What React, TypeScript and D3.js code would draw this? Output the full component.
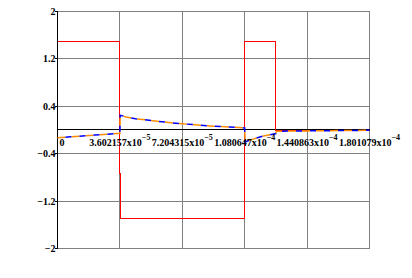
import React from "react";
import * as d3 from "d3";

const xTicks = [0, 3.602157e-5, 7.204315e-5, 1.080647e-4, 1.440863e-4, 1.801079e-4];
const xTickMantissa = ["0", "3.602157", "7.204315", "1.080647", "1.440863", "1.801079"];
const xTickExponent = ["", "−5", "−5", "−4", "−4", "−4"];
const yTicks = [-2, -1.2, -0.4, 0.4, 1.2, 2];
const yTickLabels = ["−2", "−1.2", "−0.4", "0.4", "1.2", "2"];

const redT = [0, 3.602157e-5, 3.602157e-5, 3.66e-5, 3.66e-5, 1.080647e-4, 1.080647e-4, 1.2608e-4, 1.2608e-4, 1.801079e-4];
const redV = [1.5, 1.5, -0.73, -0.73, -1.5, -1.5, 1.5, 1.5, 0, 0];

const respT = [0, 7.2e-6, 1.441e-5, 2.161e-5, 2.882e-5, 3.602e-5, 3.62e-5, 3.962e-5, 4.503e-5, 5.403e-5, 6.304e-5, 7.204e-5, 8.105e-5, 9.005e-5, 9.906e-5, 1.0806e-4, 1.083e-4, 1.1347e-4, 1.1887e-4, 1.2608e-4, 1.263e-4, 1.4409e-4, 1.621e-4, 1.801e-4];
const respV = [-0.13, -0.115, -0.1, -0.085, -0.07, -0.055, 0.25, 0.22, 0.19, 0.16, 0.13, 0.105, 0.085, 0.065, 0.05, 0.035, -0.2, -0.15, -0.1, -0.06, -0.02, -0.015, -0.01, -0.005];

export default function App() {
  const W = 412, H = 278;
  const x = d3.scaleLinear().domain([0, 1.801079e-4]).range([57.5, 369.5]);
  const y = d3.scaleLinear().domain([-2, 2]).range([248.5, 11.5]);
  const mk = (ts: number[], vs: number[]) =>
    d3.line<number>().x((t) => x(t)).y((_, i) => y(vs[i]))(ts) || "";
  const font = "'Liberation Serif', 'Times New Roman', serif";
  const x0 = x(0);
  const xe = x(1.801079e-4);
  return (
    <svg width={W} height={H} style={{ position: "absolute", left: 0, top: 0, background: "#fff" }}>
      <g shapeRendering="crispEdges">
        {xTicks.map((t, i) => (
          <line key={"gx" + i} x1={x(t)} x2={x(t)} y1={y(2)} y2={y(-2)} stroke="#808080" strokeWidth={1} />
        ))}
        {yTicks.map((v, i) => (
          <line key={"gy" + i} x1={x0} x2={xe} y1={y(v)} y2={y(v)} stroke="#808080" strokeWidth={1} />
        ))}
        <line x1={x0} x2={x0} y1={y(2)} y2={y(-2)} stroke="#000" strokeWidth={1} />
        <line x1={x0} x2={xe} y1={y(0) - 0.5} y2={y(0) - 0.5} stroke="#000" strokeWidth={1} />
        {yTicks.map((v, i) => (
          <line key={"ty" + i} x1={x0 - 3} x2={x0} y1={y(v)} y2={y(v)} stroke="#000" strokeWidth={1} />
        ))}
        <path d={mk(redT, redV)} fill="none" stroke="#ff0000" strokeWidth={1} />
      </g>
      <path d={mk(respT, respV)} fill="none" stroke="#ff8c00" strokeWidth={1.5} strokeDasharray="8 6" />
      <path d={mk(respT, respV)} fill="none" stroke="#0000ff" strokeWidth={1.5} strokeDasharray="6 8" strokeDashoffset={-8} />
      {yTicks.map((v, i) => (
        <text key={"ly" + i} x={x0 - 2} y={y(v) + 3.5} textAnchor="end" fontFamily={font} fontWeight="bold" fontSize={10}>
          {yTickLabels[i]}
        </text>
      ))}
      {xTicks.map((t, i) => (
        <text key={"lx" + i} x={i === 0 ? x(t) + 2 : x(t)} y={146} textAnchor={i === 0 ? "start" : "middle"} fontFamily={font} fontWeight="bold" fontSize={10}>
          {i === 0 ? xTickMantissa[i] : xTickMantissa[i] + "x10"}
          {xTickExponent[i] && (
            <tspan dy={-6} fontSize={8}>{xTickExponent[i]}</tspan>
          )}
        </text>
      ))}
    </svg>
  );
}
